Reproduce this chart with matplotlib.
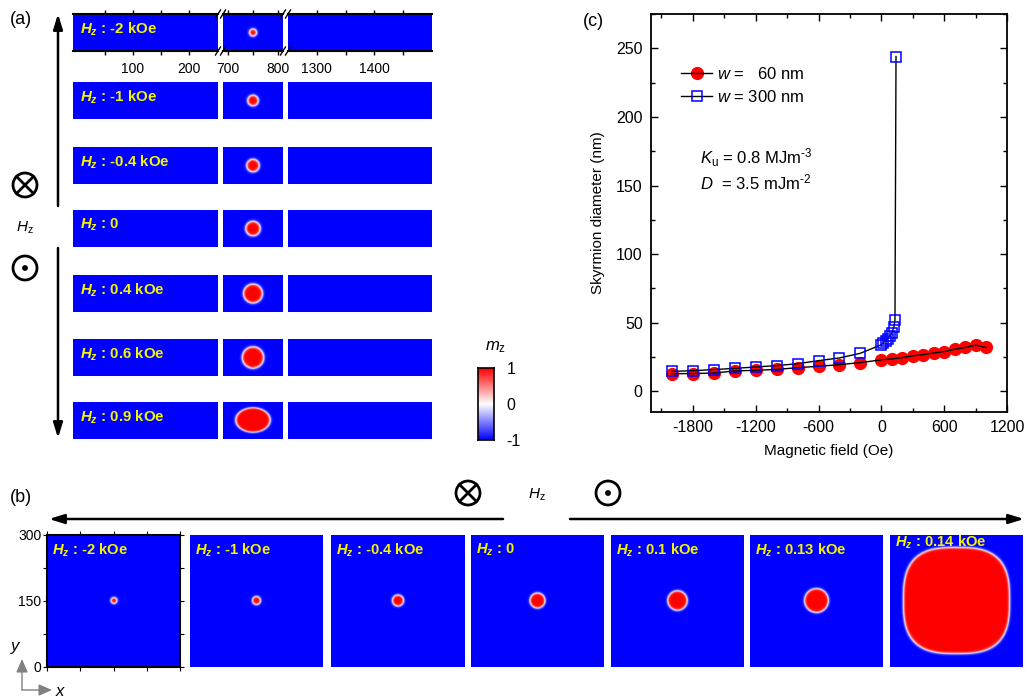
import numpy as np
import matplotlib
matplotlib.use('Agg')
import matplotlib.pyplot as plt
from matplotlib.patches import Circle
from matplotlib.ticker import MultipleLocator

plt.rcParams['font.family'] = ['Liberation Sans', 'DejaVu Sans']
plt.rcParams['axes.unicode_minus'] = False
plt.rcParams['mathtext.fontset'] = 'custom'
plt.rcParams['mathtext.rm'] = 'Liberation Sans'
plt.rcParams['mathtext.it'] = 'Liberation Sans:italic'
plt.rcParams['mathtext.bf'] = 'Liberation Sans:bold'
plt.rcParams['mathtext.bfit'] = 'Liberation Sans:italic:bold'

# ---- data ----
# panel (c): skyrmion diameter vs field
field_60 = [-2000, -1800, -1600, -1400, -1200, -1000, -800, -600, -400, -200, 0,
            100, 200, 300, 400, 500, 600, 700, 800, 900, 1000]
diam_60 = [12.9, 13.0, 13.4, 14.9, 15.4, 16.0, 17.3, 18.3, 19.5, 21.0, 23.0,
           23.7, 24.6, 25.9, 26.8, 28.0, 29.0, 30.7, 32.0, 33.7, 32.0]
field_300 = [-2000, -1800, -1600, -1400, -1200, -1000, -800, -600, -400, -200, 0,
             20, 40, 60, 80, 100, 120, 130, 140]
diam_300 = [14.6, 15.1, 15.9, 16.8, 17.8, 18.8, 20.2, 22.4, 24.4, 27.8, 34.0,
            35.5, 37.0, 38.5, 40.5, 42.5, 47.0, 52.0, 244.0]

# panel (a): nanotrack snapshots (w = 60 nm)
strip_labels = ['-2 kOe', '-1 kOe', '-0.4 kOe', '0', '0.4 kOe', '0.6 kOe', '0.9 kOe']
strip_dx = [14, 21, 25, 29, 38, 43, 69]   # skyrmion size along x (nm)
strip_dy = [14, 21, 25, 29, 38, 43, 48]   # skyrmion size along y (nm)

# panel (b): 300 nm x 300 nm snapshots
sq_labels = ['-2 kOe', '-1 kOe', '-0.4 kOe', '0', '0.1 kOe', '0.13 kOe', '0.14 kOe']
sq_diam = [13, 18, 25, 34, 44, 54, 240]
sq_shape = [2, 2, 2, 2, 2, 2, 2.9]

W, H = 1028, 700
fig = plt.figure(figsize=(W / 100, H / 100), dpi=100)
cmap = plt.get_cmap('bwr')
yellow = '#f5f500'


def box(x0, y0, x1, y1):
    return [x0 / W, 1 - y1 / H, (x1 - x0) / W, (y1 - y0) / H]


def mz_map(x, y, x0, y0, dx, dy, p, delta):
    X, Y = np.meshgrid(x, y)
    rho = (np.abs((X - x0) / (dx / 2)) ** p + np.abs((Y - y0) / (dy / 2)) ** p) ** (1 / p)
    return np.tanh((1 - rho) * (dx / 2) / delta)


def hz_text(lab):
    return r'$\mathbfit{H}_{\mathbfit{z}}$ : ' + lab


# ---- panel (a) ----
strip_tops = [14, 82, 147, 210, 275, 339, 402]
seg_px = [(73, 218), (223, 283), (288, 432)]
seg_lim = [(-7, 252), (690, 810), (1250, 1500)]
xs = np.linspace(690, 810, 240)
ys = np.linspace(0, 74, 148)
for i, top in enumerate(strip_tops):
    for j in range(3):
        ax = fig.add_axes(box(seg_px[j][0], top, seg_px[j][1], top + 37))
        ax.set_xlim(*seg_lim[j])
        ax.set_ylim(0, 74)
        ax.set_facecolor(cmap(0.0))
        if j == 1:
            img = mz_map(xs, ys, 750, 37, strip_dx[i], strip_dy[i], 2, 3.0)
            ax.imshow(img, extent=(690, 810, 0, 74), origin='lower', aspect='auto',
                      cmap=cmap, vmin=-1, vmax=1, interpolation='bilinear')
        if j == 0:
            ax.text(7 / 145 * 259 - 7, 74 - 15 / 37 * 74, hz_text(strip_labels[i]),
                    color=yellow, fontsize=10.8, fontweight='bold', va='center')
        ax.set_yticks([])
        for s in ['left', 'right']:
            ax.spines[s].set_visible(False)
        if i == 0:
            for s in ['top', 'bottom']:
                ax.spines[s].set_linewidth(1.5)
            if j == 0:
                ax.set_xticks([100, 200])
                ax.set_xticks([50, 150], minor=True)
            elif j == 1:
                ax.set_xticks([700, 800])
                ax.set_xticks([750], minor=True)
            else:
                ax.set_xticks([1300, 1400])
                ax.set_xticks([1350, 1450], minor=True)
            ax.tick_params(axis='x', which='both', direction='out', length=3, width=1,
                           top=True, labelsize=10, pad=5)
        else:
            ax.set_xticks([])
            for s in ['top', 'bottom']:
                ax.spines[s].set_visible(False)

# colorbar
cax = fig.add_axes(box(478, 368, 494, 440))
grad = np.linspace(-1, 1, 200).reshape(-1, 1)
cax.imshow(grad, origin='lower', aspect='auto', cmap=cmap, extent=(0, 1, -1, 1))
cax.set_xticks([])
cax.yaxis.tick_right()
cax.set_yticks([1, 0, -1])
cax.set_yticklabels(['1', '0', '-1'])
cax.tick_params(length=0, labelsize=11.5, pad=9)
for s in cax.spines.values():
    s.set_linewidth(1.2)

# ---- panel (b) ----
sq_left = [47, 190, 331, 471, 611, 750, 890]
xg = np.linspace(0, 300, 400)
for i, left in enumerate(sq_left):
    ax = fig.add_axes(box(left, 535, left + 133, 667))
    img = mz_map(xg, xg, 150, 150, sq_diam[i], sq_diam[i], sq_shape[i], 3.0)
    ax.imshow(img, extent=(0, 300, 0, 300), origin='lower', aspect='auto',
              cmap=cmap, vmin=-1, vmax=1, interpolation='bilinear')
    ax.set_xlim(0, 300)
    ax.set_ylim(0, 300)
    ty = 300 - (7 if i == 6 else 15) / 132 * 300
    ax.text(12, ty, hz_text(sq_labels[i]), color=yellow, fontsize=10.6,
            fontweight='bold', va='center')
    if i == 0:
        ax.set_yticks([0, 150, 300])
        ax.set_yticks([75, 225], minor=True)
        ax.set_xticks([0, 75, 150, 225, 300])
        ax.set_xticklabels([])
        ax.tick_params(which='both', direction='out', length=3, width=0.8,
                       top=True, right=True, labelsize=10, pad=1)
        for s in ax.spines.values():
            s.set_linewidth(1.5)
    else:
        ax.set_xticks([])
        ax.set_yticks([])
        for s in ax.spines.values():
            s.set_visible(False)

# ---- panel (c) ----
axc = fig.add_axes(box(651, 14, 1007, 412))
m1, = axc.plot(field_60, diam_60, 'o', color='red', ms=8.5, mec='red', zorder=2)
l1, = axc.plot(field_60, diam_60, '-', color='k', lw=1, zorder=3)
l2, = axc.plot(field_300, diam_300, '-', color='k', lw=1, zorder=3)
m2, = axc.plot(field_300, diam_300, 's', mfc='none', mec='blue', ms=7, mew=1.1, zorder=4)
axc.set_xlim(-2200, 1200)
axc.set_ylim(-15, 275)
axc.xaxis.set_major_locator(MultipleLocator(600))
axc.xaxis.set_minor_locator(MultipleLocator(300))
axc.yaxis.set_major_locator(MultipleLocator(50))
axc.yaxis.set_minor_locator(MultipleLocator(25))
axc.tick_params(which='both', direction='in', top=True, right=True, labelsize=11.5,
                width=1, pad=6)
axc.tick_params(which='major', length=5)
axc.tick_params(which='minor', length=3)
for s in axc.spines.values():
    s.set_linewidth(1.3)
axc.set_xlabel('Magnetic field (Oe)', fontsize=11, labelpad=6)
axc.set_ylabel('Skyrmion diameter (nm)', fontsize=11, labelpad=8)
axc.legend([(m1, l1), (l2, m2)], [r'$w$ =   60 nm', r'$w$ = 300 nm'],
           loc='upper left', bbox_to_anchor=(0.06, 0.89), frameon=False,
           fontsize=12, handlelength=1.9, handletextpad=0.3, labelspacing=0.4,
           borderpad=0)
axc.text(-1730, 170, r'$K_{\mathrm{u}}$ = 0.8 MJm$^{\text{-3}}$', fontsize=12, va='center')
axc.text(-1730, 152, r'$D$  = 3.5 mJm$^{\text{-2}}$', fontsize=12, va='center')

# ---- overlay: labels, arrows, field symbols ----
ov = fig.add_axes([0, 0, 1, 1])
ov.set_xlim(0, W)
ov.set_ylim(H, 0)
ov.axis('off')

ov.text(10, 20, '(a)', fontsize=13, va='center')
ov.text(10, 497, '(b)', fontsize=13, va='center')
ov.text(583, 22, '(c)', fontsize=13, va='center')
ov.text(485, 347, r'$m_{\mathrm{z}}$', fontsize=12, va='center', ha='left')

aprops = dict(arrowstyle='-|>,head_length=0.9,head_width=0.28', lw=1.8, color='k',
              shrinkA=0, shrinkB=0)
ov.annotate('', xy=(58, 14), xytext=(58, 206), arrowprops=aprops)
ov.annotate('', xy=(58, 438), xytext=(58, 248), arrowprops=aprops)
ov.annotate('', xy=(49, 519), xytext=(503, 519), arrowprops=aprops)
ov.annotate('', xy=(1024, 519), xytext=(570, 519), arrowprops=aprops)

ov.text(25, 228, r'$H_{\mathrm{z}}$', fontsize=11, ha='center', va='center')
ov.text(537, 495, r'$H_{\mathrm{z}}$', fontsize=11, ha='center', va='center')


def otimes(x, y, r=12):
    ov.add_patch(Circle((x, y), r, fill=False, lw=2, color='k'))
    d = r * 0.707
    ov.plot([x - d, x + d], [y - d, y + d], color='k', lw=2)
    ov.plot([x - d, x + d], [y + d, y - d], color='k', lw=2)


def odot(x, y, r=12):
    ov.add_patch(Circle((x, y), r, fill=False, lw=2, color='k'))
    ov.add_patch(Circle((x, y), 2.2, color='k'))


otimes(25, 185)
odot(25, 268)
otimes(468, 493)
odot(608, 493)

# break marks on the top strip
for bx in [218, 223, 283, 288]:
    for by in [14, 51]:
        ov.plot([bx - 2.5, bx + 2.5], [by + 4, by - 4], color='k', lw=1)

# x-y indicator
gprops = dict(arrowstyle='-|>,head_length=0.8,head_width=0.35', lw=1, color='gray',
              shrinkA=0, shrinkB=0)
ov.annotate('', xy=(22, 659), xytext=(22, 690), arrowprops=gprops)
ov.annotate('', xy=(52, 690), xytext=(22, 690), arrowprops=gprops)
ov.text(16, 648, r'$y$', fontsize=12, ha='center', va='center')
ov.text(61, 691, r'$x$', fontsize=12, ha='center', va='center')

fig.savefig('out.png', dpi=100)
